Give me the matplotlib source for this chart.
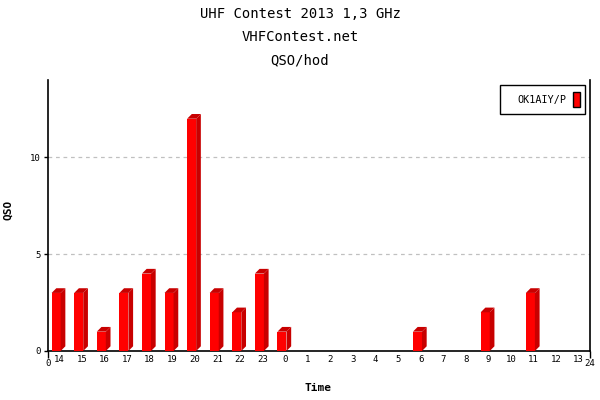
import matplotlib
matplotlib.use("Agg")
import matplotlib.pyplot as plt
from matplotlib.patches import Polygon, Rectangle

hours = ["14", "15", "16", "17", "18", "19", "20", "21", "22", "23",
         "0", "1", "2", "3", "4", "5", "6", "7", "8", "9", "10", "11", "12", "13"]
qso = [3, 3, 1, 3, 4, 3, 12, 3, 2, 4,
       1, 0, 0, 0, 0, 0, 1, 0, 0, 2, 0, 3, 0, 0]
yticks = [0, 5, 10]
series_name = "OK1AIY/P"

FONT = ["DejaVu Sans Mono"]
FRONT = "#ff0000"
DARK = "#c80000"
W, H = 600, 400

fig = plt.figure(figsize=(6, 4), dpi=100)
L, R, B, T = 48 / W, 590 / W, 1 - 351 / H, 1 - 80 / H
ax = fig.add_axes([L, B, R - L, T - B])
ax.set_xlim(0, len(hours))
ax.set_ylim(0, 14)

# depth in data units (about 4.7 px)
ax_w_px = (R - L) * W
ax_h_px = (T - B) * H
ddx = 4.7 / ax_w_px * len(hours)
ddy = 4.7 / ax_h_px * 14
off = 0.16
bw = 0.40

for i, v in enumerate(qso):
    if v <= 0:
        continue
    x0 = i + off
    x1 = x0 + bw
    front = Polygon([(x0, 0), (x1, 0), (x1, v), (x0, v)], closed=True,
                    facecolor=FRONT, edgecolor="none", zorder=3)
    side = Polygon([(x1, 0), (x1 + ddx, ddy), (x1 + ddx, v + ddy), (x1, v)],
                   closed=True, facecolor=DARK, edgecolor="none", zorder=3)
    top = Polygon([(x0, v), (x1, v), (x1 + ddx, v + ddy), (x0 + ddx, v + ddy)],
                  closed=True, facecolor=DARK, edgecolor="none", zorder=3)
    for p in (front, side, top):
        ax.add_patch(p)

for y in yticks[1:]:
    ax.axhline(y, color="#c0c0c0", linestyle=(0, (3, 3)), linewidth=0.9, zorder=1)

ax.set_yticks(yticks)
ax.set_yticklabels([str(t) for t in yticks], fontfamily=FONT, fontsize=6.5)
ax.tick_params(axis="y", length=3, width=1, pad=2)

ax.set_xticks([0, len(hours)])
ax.set_xticklabels(["0", str(len(hours))], fontfamily=FONT, fontsize=6.5)
ax.tick_params(axis="x", which="major", length=5, width=1, pad=1)
ax.set_xticks([i + 0.5 for i in range(len(hours))], minor=True)
ax.set_xticklabels(hours, minor=True, fontfamily=FONT, fontsize=6.5)
ax.tick_params(axis="x", which="minor", length=0, pad=3)

for s in ("left", "bottom", "right"):
    ax.spines[s].set_linewidth(1.2)
    ax.spines[s].set_color("black")
ax.spines["top"].set_visible(False)

fig.text(318 / W, 1 - 388 / H, "Time", ha="center", va="center",
         fontfamily=FONT, fontsize=8, fontweight="bold")
fig.text(8 / W, 1 - 210 / H, "QSO", ha="center", va="center", rotation=90,
         fontfamily=FONT, fontsize=8, fontweight="bold")

fig.text(0.5, 1 - 14 / H, "UHF Contest 2013 1,3 GHz", ha="center", va="center",
         fontfamily=FONT, fontsize=10)
fig.text(0.5, 1 - 37 / H, "VHFContest.net", ha="center", va="center",
         fontfamily=FONT, fontsize=10)
fig.text(0.5, 1 - 60 / H, "QSO/hod", ha="center", va="center",
         fontfamily=FONT, fontsize=10)

# legend box drawn in figure pixels
fig.patches.append(Rectangle((500 / W, 1 - 114 / H), 85 / W, 29 / H,
                             transform=fig.transFigure, facecolor="white",
                             edgecolor="black", linewidth=1, zorder=5))
fig.patches.append(Rectangle((573 / W, 1 - 107 / H), 7 / W, 15 / H,
                             transform=fig.transFigure, facecolor=FRONT,
                             edgecolor="black", linewidth=1, zorder=6))
fig.text(566 / W, 1 - 99.5 / H, series_name, ha="right", va="center",
         fontfamily=FONT, fontsize=7.3, zorder=6)

fig.savefig("out.png", dpi=100)
